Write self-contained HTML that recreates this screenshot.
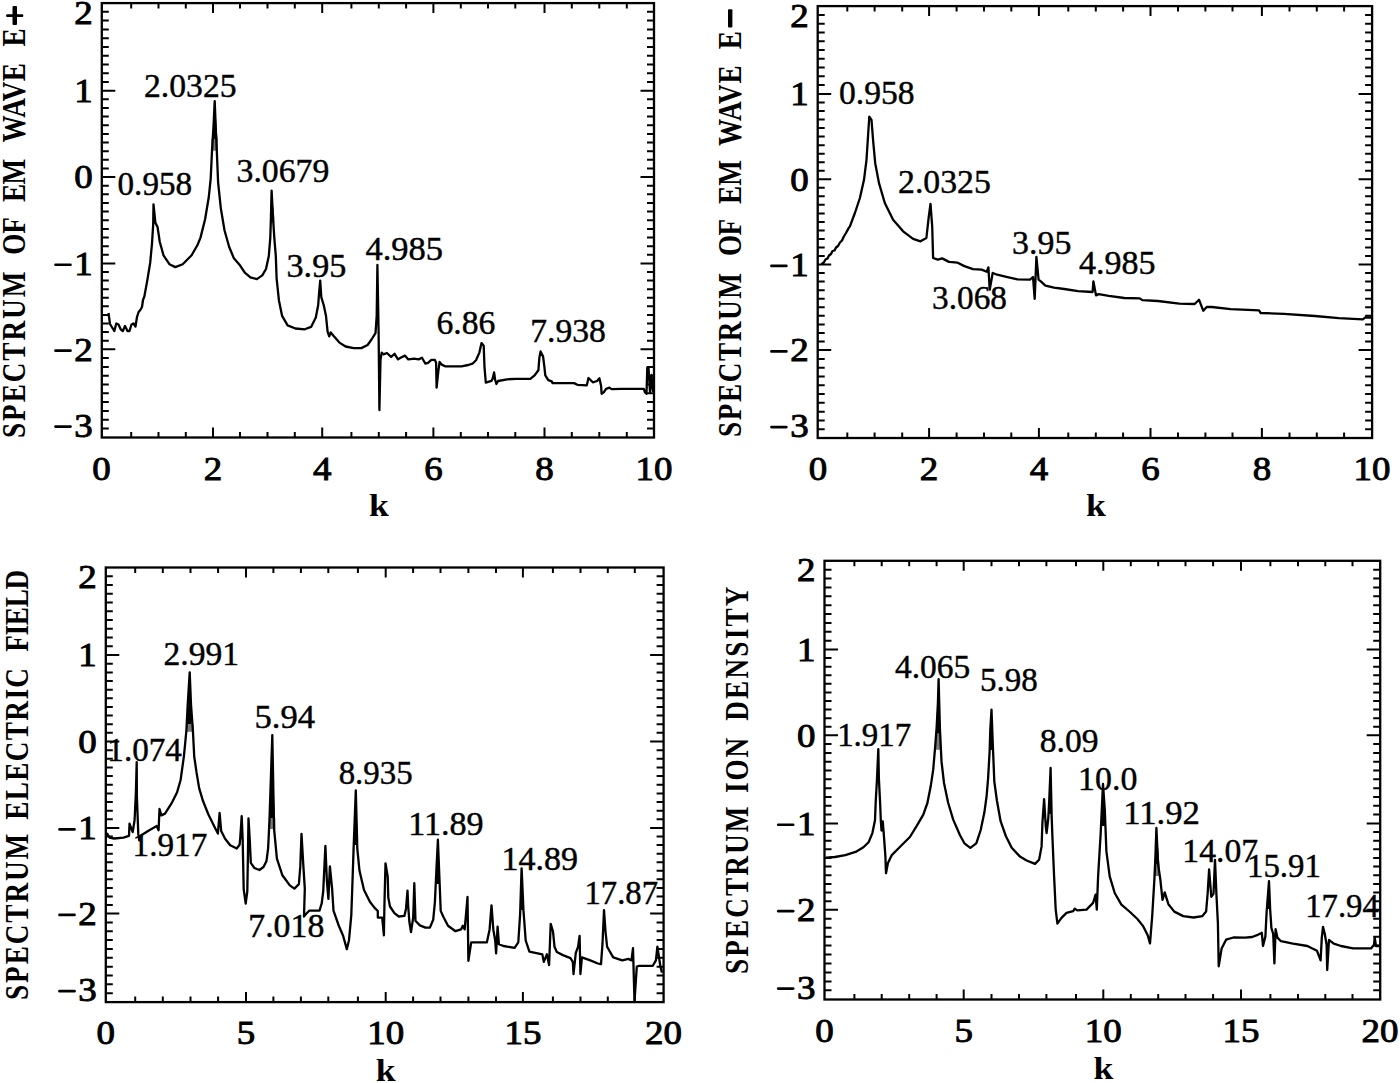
<!DOCTYPE html>
<html><head><meta charset="utf-8"><title>Spectra</title>
<style>html,body{margin:0;padding:0;background:#fff;} svg{display:block;} text{font-family:"Liberation Serif", serif;fill:#000;} text.an{stroke:#000;stroke-width:0.45px;} text.tl{stroke:#000;stroke-width:0.9px;}</style>
</head><body>
<svg width="1400" height="1083" viewBox="0 0 1400 1083">
<rect x="101.8" y="3.1" width="552.2" height="434.4" fill="none" stroke="#000" stroke-width="2.3"/>
<path d="M131.2 437.5v-5.5M131.2 3.1v5.5M158.5 437.5v-5.5M158.5 3.1v5.5M185.8 437.5v-5.5M185.8 3.1v5.5M213 437.5v-10M213 3.1v10M240 437.5v-5.5M240 3.1v5.5M267.5 437.5v-5.5M267.5 3.1v5.5M294.8 437.5v-5.5M294.8 3.1v5.5M322.2 437.5v-10M322.2 3.1v10M351.4 437.5v-5.5M351.4 3.1v5.5M378.8 437.5v-5.5M378.8 3.1v5.5M406.1 437.5v-5.5M406.1 3.1v5.5M433.4 437.5v-10M433.4 3.1v10M460.8 437.5v-5.5M460.8 3.1v5.5M488 437.5v-5.5M488 3.1v5.5M515.3 437.5v-5.5M515.3 3.1v5.5M544.5 437.5v-10M544.5 3.1v10M571.8 437.5v-5.5M571.8 3.1v5.5M599.3 437.5v-5.5M599.3 3.1v5.5M626.8 437.5v-5.5M626.8 3.1v5.5M101.8 11.86h7M654 11.86h-7M101.8 20.62h7M654 20.62h-7M101.8 29.38h7M654 29.38h-7M101.8 38.14h7M654 38.14h-7M101.8 46.9h7M654 46.9h-7M101.8 55.66h7M654 55.66h-7M101.8 64.42h7M654 64.42h-7M101.8 73.18h7M654 73.18h-7M101.8 81.94h7M654 81.94h-7M101.8 90.7h13.5M654 90.7h-13.5M101.8 99.34h7M654 99.34h-7M101.8 107.98h7M654 107.98h-7M101.8 116.62h7M654 116.62h-7M101.8 125.26h7M654 125.26h-7M101.8 133.9h7M654 133.9h-7M101.8 142.54h7M654 142.54h-7M101.8 151.18h7M654 151.18h-7M101.8 159.82h7M654 159.82h-7M101.8 168.46h7M654 168.46h-7M101.8 177.1h13.5M654 177.1h-13.5M101.8 185.73h7M654 185.73h-7M101.8 194.36h7M654 194.36h-7M101.8 202.99h7M654 202.99h-7M101.8 211.62h7M654 211.62h-7M101.8 220.25h7M654 220.25h-7M101.8 228.88h7M654 228.88h-7M101.8 237.51h7M654 237.51h-7M101.8 246.14h7M654 246.14h-7M101.8 254.77h7M654 254.77h-7M101.8 263.4h13.5M654 263.4h-13.5M101.8 271.99h7M654 271.99h-7M101.8 280.58h7M654 280.58h-7M101.8 289.17h7M654 289.17h-7M101.8 297.76h7M654 297.76h-7M101.8 306.35h7M654 306.35h-7M101.8 314.94h7M654 314.94h-7M101.8 323.53h7M654 323.53h-7M101.8 332.12h7M654 332.12h-7M101.8 340.71h7M654 340.71h-7M101.8 349.3h13.5M654 349.3h-13.5M101.8 358.1h7M654 358.1h-7M101.8 366.9h7M654 366.9h-7M101.8 375.7h7M654 375.7h-7M101.8 384.5h7M654 384.5h-7M101.8 393.3h7M654 393.3h-7M101.8 402.1h7M654 402.1h-7M101.8 410.9h7M654 410.9h-7M101.8 419.7h7M654 419.7h-7M101.8 428.5h7M654 428.5h-7" stroke="#000" stroke-width="2" fill="none"/>
<text transform="translate(92.8,23.5) scale(1.12,1)" text-anchor="end" class="tl" font-size="33">2</text>
<text transform="translate(92.8,102) scale(1.12,1)" text-anchor="end" class="tl" font-size="33">1</text>
<text transform="translate(92.8,188.4) scale(1.12,1)" text-anchor="end" class="tl" font-size="33">0</text>
<text transform="translate(92.8,274.7) scale(1.12,1)" text-anchor="end" class="tl" font-size="33">1</text>
<rect x="54.2" y="263.4" width="17.6" height="2.7" rx="1.3"/>
<text transform="translate(92.8,360.6) scale(1.12,1)" text-anchor="end" class="tl" font-size="33">2</text>
<rect x="54.2" y="349.3" width="17.6" height="2.7" rx="1.3"/>
<text transform="translate(92.8,436.5) scale(1.12,1)" text-anchor="end" class="tl" font-size="33">3</text>
<rect x="54.2" y="425.2" width="17.6" height="2.7" rx="1.3"/>
<text transform="translate(101.5,479.5) scale(1.12,1)" text-anchor="middle" class="tl" font-size="33">0</text>
<text transform="translate(213,479.5) scale(1.12,1)" text-anchor="middle" class="tl" font-size="33">2</text>
<text transform="translate(322.2,479.5) scale(1.12,1)" text-anchor="middle" class="tl" font-size="33">4</text>
<text transform="translate(433.4,479.5) scale(1.12,1)" text-anchor="middle" class="tl" font-size="33">6</text>
<text transform="translate(544.5,479.5) scale(1.12,1)" text-anchor="middle" class="tl" font-size="33">8</text>
<text transform="translate(654,479.5) scale(1.12,1)" text-anchor="middle" class="tl" font-size="33">10</text>
<text transform="translate(378.9,516) scale(1.15,1)" text-anchor="middle" font-weight="bold" font-size="31">k</text>
<text transform="translate(25,438) rotate(-90) scale(0.8,1)" font-weight="bold" font-size="34" textLength="207.88" lengthAdjust="spacing">SPECTRUM</text>
<text transform="translate(25,254.8) rotate(-90) scale(0.8,1)" font-weight="bold" font-size="34" textLength="47" lengthAdjust="spacing">OF</text>
<text transform="translate(25,201.9) rotate(-90) scale(0.8,1)" font-weight="bold" font-size="34" textLength="53.87" lengthAdjust="spacing">EM</text>
<text transform="translate(25,142.5) rotate(-90) scale(0.8,1)" font-weight="bold" font-size="34" textLength="99.38" lengthAdjust="spacing">WAVE</text>
<text transform="translate(25,46.5) rotate(-90) scale(0.8,1)" font-weight="bold" font-size="34" textLength="22.37" lengthAdjust="spacing">E</text>
<rect x="12.5" y="6.1" width="4.5" height="18.8" rx="1"/>
<rect x="6.1" y="14.3" width="17.2" height="2.6" rx="1"/>
<rect x="211.4" y="138.6" width="6.5" height="12.1" fill="#7a7a7a"/>
<polygon points="214.8,100.8 217.4,139 212,139" fill="#000"/>
<rect x="270.3" y="215.5" width="4" height="7.3" fill="#7a7a7a"/>
<polygon points="271.6,190.6 274.1,216 269.9,216" fill="#000"/>
<polyline points="108.5,313 110,324 111.5,326.5 114.3,331 116.3,323.5 118.5,324.5 120.8,329.5 122.8,331 125,326 127.5,331 129.5,331 131.5,324.5 133.5,323.5 135.5,326.5 137,317 138.6,312 140.3,310 142,307 143,300 144.3,296.7 147.3,280.4 150.2,262.7 152,243.5 153.2,224.3 153.5,204.4 155.4,222.8 157.6,227.3 159.8,242 163.5,255.3 169.4,264.2 175.3,267.1 182.7,264.2 191.6,255.3 197.5,245 200.5,237.6 205.1,219.2 208.8,197 210.7,178.6 212,150.9 213.5,126.9 214.7,101.1 215.7,126.9 216.8,150.9 218.1,182.3 220.8,208.1 224.5,230.2 229.1,246.8 233.7,257.9 239.3,264.4 244.8,272.7 250.4,277.3 256.8,279.1 262.3,275.4 266,269 268.8,256 270.3,237.6 271,215.5 271.6,190.6 272.9,215.5 274.3,237.6 275.8,256 276.6,278.3 278.9,300.2 282.1,315.9 287.6,325.4 295.4,328.5 304.8,329.3 311.1,326.9 315.8,317.5 318.2,305 319,294 320.2,280.6 321.3,297.1 323.7,305 326,316 327.6,331.6 329.2,336.3 330.7,332.4 333.9,336.3 339.4,342.6 345.6,346.5 353.5,348.1 361.3,348.1 367.6,345 371.5,339.5 375.5,333.2 376.7,315.9 377.4,264.9 378.6,331.6 379.4,410.1 380.5,359.9 381.7,352.6 383.4,354.3 386.9,353 391.1,356.8 394.6,353.8 398,359.4 400.6,357.7 404.9,355.6 408.3,359.4 414.3,358.6 418.6,359.4 422,357.7 425.4,363.7 428,362.8 431.4,359.8 434.8,359.8 436.1,362.8 436.6,387.7 438.3,371.4 439.6,362 441.7,364.6 445.1,366.3 452.8,366.3 461.4,366.3 468.3,365 472.5,363.7 476,360.3 479.4,352.6 481.5,343.1 483.7,345.7 484.5,367.1 485.8,382.6 491.4,380.8 492.6,378.8 494.1,372.4 495.1,379.7 496.4,384 498.1,381 507.1,379.3 515.7,378.8 530.3,378.8 534.6,375.4 538.4,370.3 539.3,358.3 540.6,351.4 543.1,356.6 544.4,366.8 545.3,375.4 548.3,380.1 551.7,381.4 552.6,383.1 574,383.1 577.4,384.8 586.8,385.3 588.5,378 592.8,382.3 597.1,381 599.4,378.3 601.1,386 601.6,393.8 603.9,392.1 606.1,388.8 609.4,387.7 611.6,389.1 621,388.8 643.8,388.8 644.9,392.1 646.5,393.8 647.3,367.5 648.5,367.5 650,392 651.5,375 653,392" fill="none" stroke="#000" stroke-width="2.3" stroke-linejoin="round"/>
<text class="an" x="117.54" y="194.5" font-size="34.5" textLength="74.56" lengthAdjust="spacingAndGlyphs">0.958</text>
<text class="an" x="144.02" y="96.5" font-size="34.5" textLength="92.53" lengthAdjust="spacingAndGlyphs">2.0325</text>
<text class="an" x="236.54" y="182" font-size="34.5" textLength="92.81" lengthAdjust="spacingAndGlyphs">3.0679</text>
<text class="an" x="286.52" y="277" font-size="34.5" textLength="59.85" lengthAdjust="spacingAndGlyphs">3.95</text>
<text class="an" x="365.5" y="259.5" font-size="34.5" textLength="77.62" lengthAdjust="spacingAndGlyphs">4.985</text>
<text class="an" x="436.53" y="333.5" font-size="34.5" textLength="58.84" lengthAdjust="spacingAndGlyphs">6.86</text>
<text class="an" x="530.15" y="341.8" font-size="34.5" textLength="75.76" lengthAdjust="spacingAndGlyphs">7.938</text>
<rect x="817.7" y="6.1" width="554.4" height="431.9" fill="none" stroke="#000" stroke-width="2.3"/>
<path d="M847.3 438v-5.5M847.3 6.1v5.5M874.6 438v-5.5M874.6 6.1v5.5M902.2 438v-5.5M902.2 6.1v5.5M929.1 438v-10M929.1 6.1v10M956.6 438v-5.5M956.6 6.1v5.5M984 438v-5.5M984 6.1v5.5M1011.3 438v-5.5M1011.3 6.1v5.5M1038.9 438v-10M1038.9 6.1v10M1068.3 438v-5.5M1068.3 6.1v5.5M1095.8 438v-5.5M1095.8 6.1v5.5M1123.1 438v-5.5M1123.1 6.1v5.5M1150.5 438v-10M1150.5 6.1v10M1178 438v-5.5M1178 6.1v5.5M1205.4 438v-5.5M1205.4 6.1v5.5M1232.5 438v-5.5M1232.5 6.1v5.5M1261.9 438v-10M1261.9 6.1v10M1289.5 438v-5.5M1289.5 6.1v5.5M1316.8 438v-5.5M1316.8 6.1v5.5M1344.1 438v-5.5M1344.1 6.1v5.5M817.7 14.88h7M1372.1 14.88h-7M817.7 23.66h7M1372.1 23.66h-7M817.7 32.44h7M1372.1 32.44h-7M817.7 41.22h7M1372.1 41.22h-7M817.7 50h7M1372.1 50h-7M817.7 58.78h7M1372.1 58.78h-7M817.7 67.56h7M1372.1 67.56h-7M817.7 76.34h7M1372.1 76.34h-7M817.7 85.12h7M1372.1 85.12h-7M817.7 93.9h13.5M1372.1 93.9h-13.5M817.7 102.44h7M1372.1 102.44h-7M817.7 110.98h7M1372.1 110.98h-7M817.7 119.52h7M1372.1 119.52h-7M817.7 128.06h7M1372.1 128.06h-7M817.7 136.6h7M1372.1 136.6h-7M817.7 145.14h7M1372.1 145.14h-7M817.7 153.68h7M1372.1 153.68h-7M817.7 162.22h7M1372.1 162.22h-7M817.7 170.76h7M1372.1 170.76h-7M817.7 179.3h13.5M1372.1 179.3h-13.5M817.7 187.82h7M1372.1 187.82h-7M817.7 196.34h7M1372.1 196.34h-7M817.7 204.86h7M1372.1 204.86h-7M817.7 213.38h7M1372.1 213.38h-7M817.7 221.9h7M1372.1 221.9h-7M817.7 230.42h7M1372.1 230.42h-7M817.7 238.94h7M1372.1 238.94h-7M817.7 247.46h7M1372.1 247.46h-7M817.7 255.98h7M1372.1 255.98h-7M817.7 264.5h13.5M1372.1 264.5h-13.5M817.7 273.06h7M1372.1 273.06h-7M817.7 281.62h7M1372.1 281.62h-7M817.7 290.18h7M1372.1 290.18h-7M817.7 298.74h7M1372.1 298.74h-7M817.7 307.3h7M1372.1 307.3h-7M817.7 315.86h7M1372.1 315.86h-7M817.7 324.42h7M1372.1 324.42h-7M817.7 332.98h7M1372.1 332.98h-7M817.7 341.54h7M1372.1 341.54h-7M817.7 350.1h13.5M1372.1 350.1h-13.5M817.7 358.89h7M1372.1 358.89h-7M817.7 367.68h7M1372.1 367.68h-7M817.7 376.47h7M1372.1 376.47h-7M817.7 385.26h7M1372.1 385.26h-7M817.7 394.05h7M1372.1 394.05h-7M817.7 402.84h7M1372.1 402.84h-7M817.7 411.63h7M1372.1 411.63h-7M817.7 420.42h7M1372.1 420.42h-7M817.7 429.21h7M1372.1 429.21h-7" stroke="#000" stroke-width="2" fill="none"/>
<text transform="translate(808.7,26.5) scale(1.12,1)" text-anchor="end" class="tl" font-size="33">2</text>
<text transform="translate(808.7,105.2) scale(1.12,1)" text-anchor="end" class="tl" font-size="33">1</text>
<text transform="translate(808.7,190.6) scale(1.12,1)" text-anchor="end" class="tl" font-size="33">0</text>
<text transform="translate(808.7,275.8) scale(1.12,1)" text-anchor="end" class="tl" font-size="33">1</text>
<rect x="770.1" y="264.5" width="17.6" height="2.7" rx="1.3"/>
<text transform="translate(808.7,361.4) scale(1.12,1)" text-anchor="end" class="tl" font-size="33">2</text>
<rect x="770.1" y="350.1" width="17.6" height="2.7" rx="1.3"/>
<text transform="translate(808.7,437) scale(1.12,1)" text-anchor="end" class="tl" font-size="33">3</text>
<rect x="770.1" y="425.7" width="17.6" height="2.7" rx="1.3"/>
<text transform="translate(817.9,480) scale(1.12,1)" text-anchor="middle" class="tl" font-size="33">0</text>
<text transform="translate(929.1,480) scale(1.12,1)" text-anchor="middle" class="tl" font-size="33">2</text>
<text transform="translate(1038.9,480) scale(1.12,1)" text-anchor="middle" class="tl" font-size="33">4</text>
<text transform="translate(1150.5,480) scale(1.12,1)" text-anchor="middle" class="tl" font-size="33">6</text>
<text transform="translate(1261.9,480) scale(1.12,1)" text-anchor="middle" class="tl" font-size="33">8</text>
<text transform="translate(1371.9,480) scale(1.12,1)" text-anchor="middle" class="tl" font-size="33">10</text>
<text transform="translate(1095.9,516) scale(1.15,1)" text-anchor="middle" font-weight="bold" font-size="31">k</text>
<text transform="translate(741,436.9) rotate(-90) scale(0.8,1)" font-weight="bold" font-size="34" textLength="204.75" lengthAdjust="spacing">SPECTRUM</text>
<text transform="translate(741,256.1) rotate(-90) scale(0.8,1)" font-weight="bold" font-size="34" textLength="46.37" lengthAdjust="spacing">OF</text>
<text transform="translate(741,203.9) rotate(-90) scale(0.8,1)" font-weight="bold" font-size="34" textLength="54.88" lengthAdjust="spacing">EM</text>
<text transform="translate(741,145.9) rotate(-90) scale(0.8,1)" font-weight="bold" font-size="34" textLength="100.75" lengthAdjust="spacing">WAVE</text>
<text transform="translate(741,49.3) rotate(-90) scale(0.8,1)" font-weight="bold" font-size="34" textLength="22.12" lengthAdjust="spacing">E</text>
<rect x="728" y="9.2" width="4.4" height="18.2" rx="1"/>
<polyline points="821.6,262.5 823,263.8 825.5,259.5 827.5,258.5 829,255.5 831,254 832.5,251 834.5,250.5 836,247.5 838,246 840,242.5 842,240.5 843.8,236.5 846,233 848.6,228.1 849.9,226.3 854.9,213 859.9,198 864,179.8 866.5,159.8 868.2,133.2 869.3,116.6 871.5,119.9 873.2,141.5 875.2,163.2 879,183.1 884.8,203 893.1,219.7 903.1,231.3 913.1,238.8 920.5,241.3 926.4,237.9 928.8,216.3 930.5,203.9 932.2,226.3 933.1,258 937.9,259.7 942.1,258.4 949,261.9 957.6,262.7 964.4,266.1 973,269.1 981.6,269.6 986.7,271.7 988.4,267.4 989.7,289.7 992.7,273 996.1,274.3 1006.4,276.8 1017.5,279.4 1030,279.6 1033,277 1034.7,298.8 1036.4,256.9 1038.6,279.6 1041.1,281.7 1045.4,285.6 1054,287.7 1064.3,289 1078,291.1 1092.6,292 1093.4,281.3 1096,295.4 1098.6,294.1 1108.8,295.8 1124.3,298 1139.7,298.4 1142.3,300.1 1157.9,301 1179.3,303.6 1194.7,304 1199,299.7 1203.3,310.8 1206.7,307 1211.8,307 1230.7,309.1 1259,310.4 1260.7,313 1284,313.9 1314.8,316 1338.8,318.1 1362.8,319.4 1365.4,317.3 1371.4,317.7" fill="none" stroke="#000" stroke-width="2.3" stroke-linejoin="round"/>
<text class="an" x="839.03" y="103.5" font-size="34.5" textLength="75.58" lengthAdjust="spacingAndGlyphs">0.958</text>
<text class="an" x="898.02" y="193" font-size="34.5" textLength="92.83" lengthAdjust="spacingAndGlyphs">2.0325</text>
<text class="an" x="932.07" y="309.3" font-size="34.5" textLength="74.93" lengthAdjust="spacingAndGlyphs">3.068</text>
<text class="an" x="1012.04" y="253.5" font-size="34.5" textLength="59.32" lengthAdjust="spacingAndGlyphs">3.95</text>
<text class="an" x="1079.01" y="274" font-size="34.5" textLength="76.6" lengthAdjust="spacingAndGlyphs">4.985</text>
<rect x="105.8" y="567.5" width="557.8" height="434.6" fill="none" stroke="#000" stroke-width="2.3"/>
<path d="M135.2 1002.1v-5.5M135.2 567.5v5.5M162.8 1002.1v-5.5M162.8 567.5v5.5M190.5 1002.1v-5.5M190.5 567.5v5.5M218.1 1002.1v-5.5M218.1 567.5v5.5M246 1002.1v-10M246 567.5v10M273.4 1002.1v-5.5M273.4 567.5v5.5M300.9 1002.1v-5.5M300.9 567.5v5.5M328.3 1002.1v-5.5M328.3 567.5v5.5M357.9 1002.1v-5.5M357.9 567.5v5.5M385.7 1002.1v-10M385.7 567.5v10M413.1 1002.1v-5.5M413.1 567.5v5.5M440.5 1002.1v-5.5M440.5 567.5v5.5M468.4 1002.1v-5.5M468.4 567.5v5.5M496 1002.1v-5.5M496 567.5v5.5M522.9 1002.1v-10M522.9 567.5v10M552.9 1002.1v-5.5M552.9 567.5v5.5M580.5 1002.1v-5.5M580.5 567.5v5.5M607.8 1002.1v-5.5M607.8 567.5v5.5M634.8 1002.1v-5.5M634.8 567.5v5.5M105.8 576.26h7M663.6 576.26h-7M105.8 585.02h7M663.6 585.02h-7M105.8 593.78h7M663.6 593.78h-7M105.8 602.54h7M663.6 602.54h-7M105.8 611.3h7M663.6 611.3h-7M105.8 620.06h7M663.6 620.06h-7M105.8 628.82h7M663.6 628.82h-7M105.8 637.58h7M663.6 637.58h-7M105.8 646.34h7M663.6 646.34h-7M105.8 655.1h13.5M663.6 655.1h-13.5M105.8 663.74h7M663.6 663.74h-7M105.8 672.38h7M663.6 672.38h-7M105.8 681.02h7M663.6 681.02h-7M105.8 689.66h7M663.6 689.66h-7M105.8 698.3h7M663.6 698.3h-7M105.8 706.94h7M663.6 706.94h-7M105.8 715.58h7M663.6 715.58h-7M105.8 724.22h7M663.6 724.22h-7M105.8 732.86h7M663.6 732.86h-7M105.8 741.5h13.5M663.6 741.5h-13.5M105.8 750.15h7M663.6 750.15h-7M105.8 758.8h7M663.6 758.8h-7M105.8 767.45h7M663.6 767.45h-7M105.8 776.1h7M663.6 776.1h-7M105.8 784.75h7M663.6 784.75h-7M105.8 793.4h7M663.6 793.4h-7M105.8 802.05h7M663.6 802.05h-7M105.8 810.7h7M663.6 810.7h-7M105.8 819.35h7M663.6 819.35h-7M105.8 828h13.5M663.6 828h-13.5M105.8 836.56h7M663.6 836.56h-7M105.8 845.12h7M663.6 845.12h-7M105.8 853.68h7M663.6 853.68h-7M105.8 862.24h7M663.6 862.24h-7M105.8 870.8h7M663.6 870.8h-7M105.8 879.36h7M663.6 879.36h-7M105.8 887.92h7M663.6 887.92h-7M105.8 896.48h7M663.6 896.48h-7M105.8 905.04h7M663.6 905.04h-7M105.8 913.6h13.5M663.6 913.6h-13.5M105.8 922.44h7M663.6 922.44h-7M105.8 931.28h7M663.6 931.28h-7M105.8 940.12h7M663.6 940.12h-7M105.8 948.96h7M663.6 948.96h-7M105.8 957.8h7M663.6 957.8h-7M105.8 966.64h7M663.6 966.64h-7M105.8 975.48h7M663.6 975.48h-7M105.8 984.32h7M663.6 984.32h-7M105.8 993.16h7M663.6 993.16h-7" stroke="#000" stroke-width="2" fill="none"/>
<text transform="translate(96.8,587.9) scale(1.12,1)" text-anchor="end" class="tl" font-size="33">2</text>
<text transform="translate(96.8,666.4) scale(1.12,1)" text-anchor="end" class="tl" font-size="33">1</text>
<text transform="translate(96.8,752.8) scale(1.12,1)" text-anchor="end" class="tl" font-size="33">0</text>
<text transform="translate(96.8,839.3) scale(1.12,1)" text-anchor="end" class="tl" font-size="33">1</text>
<rect x="58.2" y="828" width="17.6" height="2.7" rx="1.3"/>
<text transform="translate(96.8,924.9) scale(1.12,1)" text-anchor="end" class="tl" font-size="33">2</text>
<rect x="58.2" y="913.6" width="17.6" height="2.7" rx="1.3"/>
<text transform="translate(96.8,1001.1) scale(1.12,1)" text-anchor="end" class="tl" font-size="33">3</text>
<rect x="58.2" y="989.8" width="17.6" height="2.7" rx="1.3"/>
<text transform="translate(105.8,1044) scale(1.12,1)" text-anchor="middle" class="tl" font-size="33">0</text>
<text transform="translate(246,1044) scale(1.12,1)" text-anchor="middle" class="tl" font-size="33">5</text>
<text transform="translate(385.7,1044) scale(1.12,1)" text-anchor="middle" class="tl" font-size="33">10</text>
<text transform="translate(522.9,1044) scale(1.12,1)" text-anchor="middle" class="tl" font-size="33">15</text>
<text transform="translate(663.4,1044) scale(1.12,1)" text-anchor="middle" class="tl" font-size="33">20</text>
<text transform="translate(385.7,1080.5) scale(1.15,1)" text-anchor="middle" font-weight="bold" font-size="31">k</text>
<text transform="translate(28.4,1000) rotate(-90) scale(0.8,1)" font-weight="bold" font-size="34" textLength="207.87" lengthAdjust="spacing">SPECTRUM</text>
<text transform="translate(28.4,819.8) rotate(-90) scale(0.8,1)" font-weight="bold" font-size="34" textLength="189.75" lengthAdjust="spacing">ELECTRIC</text>
<text transform="translate(28.4,651.7) rotate(-90) scale(0.8,1)" font-weight="bold" font-size="34" textLength="102.25" lengthAdjust="spacing">FIELD</text>
<rect x="186.4" y="724" width="7.1" height="7.8" fill="#7a7a7a"/>
<polygon points="189.7,672.3 191.5,724 187.3,724" fill="#000"/>
<rect x="268.9" y="818" width="6.4" height="11" fill="#7a7a7a"/>
<polygon points="272.3,735.1 274.6,818 269.8,818" fill="#000"/>
<polygon points="355.8,790.3 357.9,845 353.8,845" fill="#000"/>
<polygon points="437.9,839.7 440.1,884 436.2,884" fill="#000"/>
<polygon points="521.6,868.4 523.3,910 520.3,910" fill="#000"/>
<polyline points="106.8,833 109.6,837.6 114.2,838.5 123.5,837.6 129,835.8 129.5,823.7 132.7,832.1 134.6,820 135.9,792.3 136.7,762.2 136.9,797 138.3,833.9 139.2,840.4 142,834.8 149.3,830.2 156.7,826 158.6,830.2 159.5,809 161.4,815.4 165,813.6 171.5,803.4 177.1,792.3 180.6,780 183.9,756.3 186.4,730.5 187.7,704.6 189.7,672.3 191,704.6 192.9,730.5 194.2,756.3 196.6,772.9 199.2,788.4 203.1,801.3 208.3,814.3 214.7,827.2 217.9,833.6 219.6,813 221.2,831.1 225.1,838.8 230.2,845.3 236.7,848.5 239.6,844.7 240.2,838.6 241.7,816.2 242.7,840.6 243.7,889.3 245.7,903.6 247.3,891.4 247.8,862.9 248.5,818.3 249.8,840.6 250.8,862.9 254.4,868 259.4,870 263.5,867 266.5,860.9 268.1,848.7 269.5,819.9 272.3,735.1 274.1,829.2 276.9,858.7 282.4,875.3 289.8,885.4 294.4,888.6 298.9,884.1 300.3,866.4 301.5,833.9 303.3,864.9 304.8,888.6 304,916.6 306.2,913.7 309.2,910.7 319.5,910.7 321.7,903.3 323.2,891.5 325.4,845.8 326.9,881.2 328.4,898.9 329.9,866.4 332.1,888.6 333.5,910.7 338.7,925.5 343.1,935.8 346.8,949.1 349,940.2 351.3,915.1 352.2,890 353.6,848.6 355.8,790.3 357.3,848.6 359.5,870.8 364,890 369.9,901.8 374.4,907.6 377.8,911 377.8,917.6 382.2,917.6 383.9,935.3 384.4,906.5 385.5,863.3 387.7,876.6 388.3,897.6 390,906.5 394.4,913.2 398.8,916.5 404.4,915.9 406,908.7 407.5,890.6 408.2,906.5 409.4,922 411,932 413.2,917.6 414.3,883.2 415.5,920.9 416.6,922 419.9,925.4 425.4,927.6 429.9,927.6 433.2,919.8 434.9,902.1 436.5,867.7 437.9,839.7 439.7,885 440.7,910.9 443.2,916.5 448,925.7 455.5,931.2 461,929.4 462.8,925.7 464.7,929.4 467.5,897 468.4,960.8 471.2,942.3 477.6,942.3 486.9,942.3 489.6,929.4 491.5,905.4 493.3,929.4 495.2,940.5 496.1,953.4 497.6,926.6 498.9,944.2 503.5,946 514.6,947.9 518.3,942.3 520.1,914.6 521.6,868.4 523.5,910.9 525.7,940.5 529.4,951.6 542.3,954.3 543.8,961.9 546.9,954.3 549.1,965 550.7,923.8 553,931.5 554.5,946.7 556.8,952 562.9,955.1 570.5,958.1 572.8,962 573.5,974.1 575.8,952.8 578.1,946.7 579.6,936 580.4,974.1 581.9,957.4 590.3,960.4 597.9,963.5 601,964.2 602.5,943.7 604,910.1 605.5,931.5 607.1,946.7 613.2,957.4 622.3,960.4 628.4,958.9 631.5,960.4 633,948.2 634.5,1001.6 636.8,966.5 639.1,965.8 652.8,965.8 655.9,960.4 657.4,946.7 660.4,966.5 662,972.6" fill="none" stroke="#000" stroke-width="2.3" stroke-linejoin="round"/>
<text class="an" x="107.32" y="761" font-size="34.5" textLength="74.58" lengthAdjust="spacingAndGlyphs">1.074</text>
<text class="an" x="163.53" y="664.7" font-size="34.5" textLength="75.56" lengthAdjust="spacingAndGlyphs">2.991</text>
<text class="an" x="254.6" y="728.1" font-size="34.5" textLength="60.48" lengthAdjust="spacingAndGlyphs">5.94</text>
<text class="an" x="132.61" y="855.5" font-size="34.5" textLength="74.69" lengthAdjust="spacingAndGlyphs">1.917</text>
<text class="an" x="248.24" y="937.2" font-size="34.5" textLength="76.07" lengthAdjust="spacingAndGlyphs">7.018</text>
<text class="an" x="338.65" y="783.9" font-size="34.5" textLength="73.95" lengthAdjust="spacingAndGlyphs">8.935</text>
<text class="an" x="408.13" y="834.6" font-size="34.5" textLength="75.51" lengthAdjust="spacingAndGlyphs">11.89</text>
<text class="an" x="501.44" y="869.7" font-size="34.5" textLength="76.56" lengthAdjust="spacingAndGlyphs">14.89</text>
<text class="an" x="584.46" y="904.3" font-size="34.5" textLength="73.53" lengthAdjust="spacingAndGlyphs">17.87</text>
<rect x="824.5" y="560.8" width="555.7" height="438.7" fill="none" stroke="#000" stroke-width="2.3"/>
<path d="M854.4 999.5v-5.5M854.4 560.8v5.5M881.7 999.5v-5.5M881.7 560.8v5.5M909.2 999.5v-5.5M909.2 560.8v5.5M936.6 999.5v-5.5M936.6 560.8v5.5M963.7 999.5v-10M963.7 560.8v10M991.5 999.5v-5.5M991.5 560.8v5.5M1019 999.5v-5.5M1019 560.8v5.5M1046.4 999.5v-5.5M1046.4 560.8v5.5M1076 999.5v-5.5M1076 560.8v5.5M1103.3 999.5v-10M1103.3 560.8v10M1130.8 999.5v-5.5M1130.8 560.8v5.5M1158.2 999.5v-5.5M1158.2 560.8v5.5M1185.5 999.5v-5.5M1185.5 560.8v5.5M1213.1 999.5v-5.5M1213.1 560.8v5.5M1241 999.5v-10M1241 560.8v10M1270.4 999.5v-5.5M1270.4 560.8v5.5M1298 999.5v-5.5M1298 560.8v5.5M1325.3 999.5v-5.5M1325.3 560.8v5.5M1352.5 999.5v-5.5M1352.5 560.8v5.5M824.5 569.67h7M1380.2 569.67h-7M824.5 578.54h7M1380.2 578.54h-7M824.5 587.41h7M1380.2 587.41h-7M824.5 596.28h7M1380.2 596.28h-7M824.5 605.15h7M1380.2 605.15h-7M824.5 614.02h7M1380.2 614.02h-7M824.5 622.89h7M1380.2 622.89h-7M824.5 631.76h7M1380.2 631.76h-7M824.5 640.63h7M1380.2 640.63h-7M824.5 649.5h13.5M1380.2 649.5h-13.5M824.5 658.08h7M1380.2 658.08h-7M824.5 666.66h7M1380.2 666.66h-7M824.5 675.24h7M1380.2 675.24h-7M824.5 683.82h7M1380.2 683.82h-7M824.5 692.4h7M1380.2 692.4h-7M824.5 700.98h7M1380.2 700.98h-7M824.5 709.56h7M1380.2 709.56h-7M824.5 718.14h7M1380.2 718.14h-7M824.5 726.72h7M1380.2 726.72h-7M824.5 735.3h13.5M1380.2 735.3h-13.5M824.5 744.11h7M1380.2 744.11h-7M824.5 752.92h7M1380.2 752.92h-7M824.5 761.73h7M1380.2 761.73h-7M824.5 770.54h7M1380.2 770.54h-7M824.5 779.35h7M1380.2 779.35h-7M824.5 788.16h7M1380.2 788.16h-7M824.5 796.97h7M1380.2 796.97h-7M824.5 805.78h7M1380.2 805.78h-7M824.5 814.59h7M1380.2 814.59h-7M824.5 823.4h13.5M1380.2 823.4h-13.5M824.5 832.04h7M1380.2 832.04h-7M824.5 840.68h7M1380.2 840.68h-7M824.5 849.32h7M1380.2 849.32h-7M824.5 857.96h7M1380.2 857.96h-7M824.5 866.6h7M1380.2 866.6h-7M824.5 875.24h7M1380.2 875.24h-7M824.5 883.88h7M1380.2 883.88h-7M824.5 892.52h7M1380.2 892.52h-7M824.5 901.16h7M1380.2 901.16h-7M824.5 909.8h13.5M1380.2 909.8h-13.5M824.5 918.75h7M1380.2 918.75h-7M824.5 927.7h7M1380.2 927.7h-7M824.5 936.65h7M1380.2 936.65h-7M824.5 945.6h7M1380.2 945.6h-7M824.5 954.55h7M1380.2 954.55h-7M824.5 963.5h7M1380.2 963.5h-7M824.5 972.45h7M1380.2 972.45h-7M824.5 981.4h7M1380.2 981.4h-7M824.5 990.35h7M1380.2 990.35h-7" stroke="#000" stroke-width="2" fill="none"/>
<text transform="translate(815.5,581.2) scale(1.12,1)" text-anchor="end" class="tl" font-size="33">2</text>
<text transform="translate(815.5,660.8) scale(1.12,1)" text-anchor="end" class="tl" font-size="33">1</text>
<text transform="translate(815.5,746.6) scale(1.12,1)" text-anchor="end" class="tl" font-size="33">0</text>
<text transform="translate(815.5,834.7) scale(1.12,1)" text-anchor="end" class="tl" font-size="33">1</text>
<rect x="776.9" y="823.4" width="17.6" height="2.7" rx="1.3"/>
<text transform="translate(815.5,921.1) scale(1.12,1)" text-anchor="end" class="tl" font-size="33">2</text>
<rect x="776.9" y="909.8" width="17.6" height="2.7" rx="1.3"/>
<text transform="translate(815.5,998.5) scale(1.12,1)" text-anchor="end" class="tl" font-size="33">3</text>
<rect x="776.9" y="987.2" width="17.6" height="2.7" rx="1.3"/>
<text transform="translate(824.5,1042) scale(1.12,1)" text-anchor="middle" class="tl" font-size="33">0</text>
<text transform="translate(963.7,1042) scale(1.12,1)" text-anchor="middle" class="tl" font-size="33">5</text>
<text transform="translate(1103.3,1042) scale(1.12,1)" text-anchor="middle" class="tl" font-size="33">10</text>
<text transform="translate(1241,1042) scale(1.12,1)" text-anchor="middle" class="tl" font-size="33">15</text>
<text transform="translate(1380,1042) scale(1.12,1)" text-anchor="middle" class="tl" font-size="33">20</text>
<text transform="translate(1103.35,1078.5) scale(1.15,1)" text-anchor="middle" font-weight="bold" font-size="31">k</text>
<text transform="translate(747.8,974) rotate(-90) scale(0.8,1)" font-weight="bold" font-size="34" textLength="209.25" lengthAdjust="spacing">SPECTRUM</text>
<text transform="translate(747.8,793) rotate(-90) scale(0.8,1)" font-weight="bold" font-size="34" textLength="68.88" lengthAdjust="spacing">ION</text>
<text transform="translate(747.8,720.7) rotate(-90) scale(0.8,1)" font-weight="bold" font-size="34" textLength="167.63" lengthAdjust="spacing">DENSITY</text>
<rect x="935.2" y="733" width="5.7" height="16.8" fill="#7a7a7a"/>
<polygon points="938.5,679.3 940.6,733.2 935.8,733.2" fill="#000"/>
<polygon points="991.5,709.6 993.4,750 989.2,750" fill="#000"/>
<polygon points="1050.5,768.2 1052.2,814 1049.2,814" fill="#000"/>
<polygon points="1102.9,784.6 1105.4,826 1100.8,826" fill="#000"/>
<rect x="1154.2" y="864" width="5.6" height="12" fill="#7a7a7a"/>
<polygon points="1156.5,828.1 1159.4,864 1154.6,864" fill="#000"/>
<polygon points="1269,881.2 1270.6,909 1267.4,909" fill="#000"/>
<polyline points="825.9,857.7 834.9,857 845.3,855.1 855.6,851.9 863.4,847.3 868.6,842.2 872.4,833.1 875,820.2 875.7,802.1 877,778.8 878.3,749.1 878.9,778.8 880.2,804.7 880.8,820.2 881.5,830.5 882.8,821.5 884.1,838.3 885.4,856.4 886,873.2 888,862.9 891.8,855.1 899.6,847.3 909.9,837 916.6,826.2 923.3,814.6 927.4,803 930.7,786.3 933.2,769.7 934.9,749.8 936.6,728.2 937.9,703.2 938.6,679.1 939.9,728.2 941.5,761.4 944,783 948.2,803 953.2,819.6 960,835.2 964.4,843.3 970.3,847.8 976.3,843.3 980.7,830 984.4,812.3 986.6,796.1 988.1,778.3 989.6,751.7 990.3,729.6 991.5,709.6 992.8,744.3 994.3,781.3 996.9,800.5 1000.6,821.2 1005.8,836 1011.7,847.8 1020,856.6 1026.6,860.5 1035,863.9 1039.1,859.7 1041.6,846.4 1042.4,823.2 1044.1,799.1 1045.8,826.5 1046.6,833.1 1048.3,818.2 1049.1,803.2 1050.6,768 1051.6,814.8 1052.4,836.5 1054.1,876.3 1055.7,909.6 1057.4,923.7 1061.5,917.9 1066.5,912.9 1073.2,911.2 1074.8,908.7 1077.3,910.4 1086.5,909.6 1093.1,902.9 1095.6,894.6 1096.8,909.6 1098.1,876.3 1100.6,834.8 1103,784 1104.8,809.9 1106.4,851.4 1109.7,876.3 1114.7,893 1121.4,904.6 1130,912 1137.4,919 1143.3,926.4 1147.7,935.3 1150,943.4 1152.2,916.1 1154.4,879.1 1155.4,856.9 1156.4,828 1158.1,864.3 1160.3,879.1 1162.5,899.8 1164.7,892.4 1168.4,904.2 1174.3,911.6 1183.2,916.1 1193.5,917.5 1202.4,916.1 1206.1,911.6 1207.6,893.9 1209.1,869.5 1211.3,896.8 1213.5,893.9 1215,859.9 1216.4,893.9 1217.9,923.4 1218.7,966.3 1221.6,948.6 1226.1,939.7 1233.4,937.5 1245,937.6 1252.2,937 1257,935.2 1261.8,932.8 1263,946 1265.4,936.4 1266.6,912.4 1269,881.2 1270.2,910 1271.4,928 1273.2,934 1274.4,963.4 1275.6,929.2 1277.4,937.6 1281,941.2 1293,943.6 1307.4,946 1317,950.8 1320.6,960.4 1321.8,937.6 1323,926.8 1324.8,934 1326.6,944.8 1327.2,970 1329,940 1333.8,943.6 1341,946 1353,948.4 1371,948.4 1374,944.8 1374.7,937.6 1376,946 1379,946" fill="none" stroke="#000" stroke-width="2.3" stroke-linejoin="round"/>
<text class="an" x="837.14" y="745.9" font-size="34.5" textLength="74.06" lengthAdjust="spacingAndGlyphs">1.917</text>
<text class="an" x="895.03" y="677.5" font-size="34.5" textLength="75.28" lengthAdjust="spacingAndGlyphs">4.065</text>
<text class="an" x="980.09" y="690.6" font-size="34.5" textLength="57.73" lengthAdjust="spacingAndGlyphs">5.98</text>
<text class="an" x="1039.73" y="752.4" font-size="34.5" textLength="58.71" lengthAdjust="spacingAndGlyphs">8.09</text>
<text class="an" x="1078.05" y="790.1" font-size="34.5" textLength="59.3" lengthAdjust="spacingAndGlyphs">10.0</text>
<text class="an" x="1123.18" y="823.8" font-size="34.5" textLength="76.79" lengthAdjust="spacingAndGlyphs">11.92</text>
<text class="an" x="1182.37" y="862.4" font-size="34.5" textLength="75.84" lengthAdjust="spacingAndGlyphs">14.07</text>
<text class="an" x="1246.94" y="877.1" font-size="34.5" textLength="74.01" lengthAdjust="spacingAndGlyphs">15.91</text>
<text class="an" x="1305.15" y="917.3" font-size="34.5" textLength="73.74" lengthAdjust="spacingAndGlyphs">17.94</text>
</svg>
</body></html>
